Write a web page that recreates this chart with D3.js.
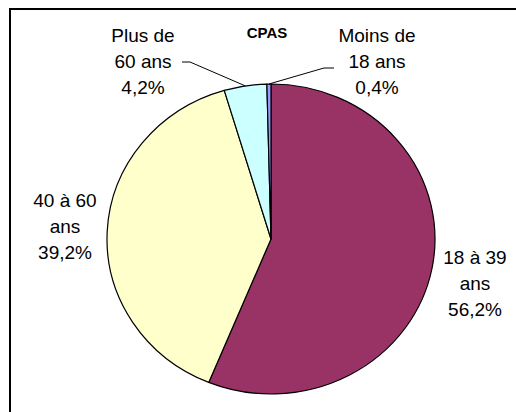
<!DOCTYPE html>
<html>
<head>
<meta charset="utf-8">
<script src="https://cdn.jsdelivr.net/npm/d3@7"></script>
<style>
  body { margin: 0; background: #fff; }
  svg { display: block; font-family: "Liberation Sans", Arial, sans-serif; }
</style>
</head>
<body>
<svg id="chart" width="516" height="412"></svg>
<script>
// data, clockwise from 12 o'clock
const categories = ['18 à 39 ans', '40 à 60 ans', 'Plus de 60 ans', 'Moins de 18 ans'];
const values = [56.2, 39.2, 4.2, 0.4];
const labelLines = [['18 à 39', 'ans', '56,2%'], ['40 à 60', 'ans', '39,2%'], ['Plus de', '60 ans', '4,2%'], ['Moins de', '18 ans', '0,4%']];
const colors = ['#993366', '#FFFFCC', '#CCFFFF', '#9999FF'];
const title = 'CPAS';

// layout
const cx = 271, cy = 239, ry = 155, rx = 164;
const sx = rx / ry;
// label anchor (center x, first baseline) and leader elbow, per slice
const labelPos = [
    {x: 475, y: 264, leader: null},
    {x: 65, y: 207, leader: null},
    {x: 143, y: 42, leader: [[182, 62], [190, 62]]},
    {x: 377, y: 42, leader: [[334, 68], [324, 68]]}
];

const svg = d3.select('#chart');

// frame (only top and left edges visible in picture)
svg.append('rect')
    .attr('x', 10).attr('y', 9)
    .attr('width', 530).attr('height', 430)
    .attr('fill', 'none')
    .attr('stroke', '#000')
    .attr('stroke-width', 2);

svg.append('text')
    .attr('x', 267).attr('y', 38)
    .attr('text-anchor', 'middle')
    .attr('font-size', 15)
    .attr('font-weight', 'bold')
    .text(title);

let pie = d3.pie().sort(null).value(d => d);
let arcs = pie(values);
let arc = d3.arc().innerRadius(0).outerRadius(ry);
let edge = d3.arc().innerRadius(ry).outerRadius(ry);

let g = svg.append('g')
    .attr('transform', `translate(${cx},${cy}) scale(${sx},1)`);

g.selectAll('path')
    .data(arcs)
    .enter()
    .append('path')
    .attr('d', arc)
    .attr('fill', (d, i) => colors[i])
    .attr('stroke', '#000')
    .attr('stroke-width', 1.2)
    .attr('vector-effect', 'non-scaling-stroke')
    .attr('stroke-linejoin', 'round');

// leader lines
arcs.forEach(function(d, i){
    let p = labelPos[i];
    if (!p.leader) return;
    let c = edge.centroid(d);
    let end = [cx + c[0] * sx, cy + c[1]];
    svg.append('path')
        .attr('d', d3.line()([...p.leader, end]))
        .attr('fill', 'none')
        .attr('stroke', '#000')
        .attr('stroke-width', 1);
});

// labels
labelLines.forEach(function(lines, i){
    let p = labelPos[i];
    let t = svg.append('text')
        .attr('text-anchor', 'middle')
        .attr('font-size', 19)
        .attr('fill', '#000');
    lines.forEach(function(l, j){
        t.append('tspan')
            .attr('x', p.x)
            .attr('y', p.y + j * 26)
            .text(l);
    });
});
</script>
</body>
</html>
